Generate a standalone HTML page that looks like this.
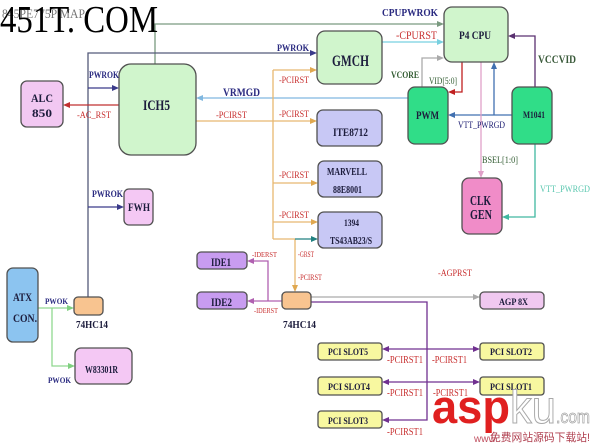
<!DOCTYPE html>
<html><head><meta charset="utf-8"><style>
html,body{margin:0;padding:0;background:#fff;}
svg{display:block;}
text{font-family:"Liberation Serif","Noto Serif CJK SC",serif;}
.b{font-weight:bold;fill:#1c1c3c;}
.lb{fill:#2a2a80;font-weight:bold;}
.lr{fill:#c83030;}
.lg{fill:#2f5a2f;}
</style></head><body>
<svg width="600" height="446" viewBox="0 0 600 446" xmlns="http://www.w3.org/2000/svg">
<rect width="600" height="446" fill="#fff"/>

<!-- connectors -->
<g fill="none" stroke-width="1.3">
 <polyline points="155,64 155,24 438,24" stroke="#7a9a80"/>
 <polyline points="88,297 88,53 312,53" stroke="#555a7a"/>
 <line x1="88" y1="88" x2="114" y2="88" stroke="#3a3a8a"/>
 <line x1="88" y1="207" x2="119" y2="207" stroke="#3a3a8a"/>
 <line x1="119" y1="105" x2="68" y2="105" stroke="#c03030"/>
 <line x1="408" y1="98" x2="201" y2="98" stroke="#80b8e0"/>
 <g stroke="#e8b870">
  <line x1="196" y1="121" x2="273" y2="121"/>
  <line x1="273" y1="70" x2="273" y2="239"/>
  <line x1="273" y1="70" x2="312" y2="70"/>
  <line x1="273" y1="121" x2="312" y2="121"/>
  <line x1="273" y1="183" x2="313" y2="183"/>
  <line x1="273" y1="222" x2="313" y2="222"/>
  <line x1="273" y1="239" x2="295" y2="239"/>
  <line x1="295" y1="239" x2="295" y2="286"/>
 </g>
 <line x1="295" y1="239" x2="313" y2="239" stroke="#208080"/>
 <line x1="382" y1="42" x2="438" y2="42" stroke="#78d0e0"/>
 <polyline points="535,87 535,36 513,36" stroke="#5a3070"/>
 <polyline points="422,87 422,58 439,58" stroke="#aaaaaa"/>
 <polyline points="462,62 462,92 453,92" stroke="#c02020"/>
 <line x1="512" y1="115" x2="453" y2="115" stroke="#4070b0"/>
 <line x1="494" y1="115" x2="494" y2="67" stroke="#4070b0"/>
 <line x1="481" y1="62" x2="481" y2="173" stroke="#e0a0c8"/>
 <polyline points="535,144 535,217 507,217" stroke="#40b8a0"/>
 <g stroke="#b060b0">
  <line x1="282" y1="301" x2="252" y2="301"/>
  <polyline points="268,301 268,261 252,261"/>
 </g>
 <line x1="311" y1="297" x2="475" y2="297" stroke="#aaaaaa"/>
 <g stroke="#703090">
  <polyline points="311,302 427,302 427,420 387,420"/>
  <line x1="387" y1="349" x2="475" y2="349"/>
  <line x1="387" y1="382" x2="475" y2="382"/>
 </g>
 <g stroke="#90d890">
  <line x1="38" y1="308" x2="69" y2="308"/>
  <polyline points="52,308 52,366 70,366"/>
 </g>
</g>

<!-- arrowheads -->
<polygon points="444,24 437,21 437,27" fill="#7a9a80"/>
<polygon points="317,53 310,50 310,56" fill="#3a3a8a"/>
<polygon points="119,88 112,85 112,91" fill="#3a3a8a"/>
<polygon points="124,207 117,204 117,210" fill="#3a3a8a"/>
<polygon points="63,105 70,102 70,108" fill="#c03030"/>
<polygon points="196,98 203,95 203,101" fill="#80b8e0"/>
<g fill="#e0a850">
 <polygon points="317,70 310,67 310,73"/>
 <polygon points="317,121 310,118 310,124"/>
 <polygon points="318,183 311,180 311,186"/>
 <polygon points="318,222 311,219 311,225"/>
 <polygon points="295,292 292,285 298,285"/>
</g>
<polygon points="318,239 311,236 311,242" fill="#208080"/>
<polygon points="444,42 437,39 437,45" fill="#78d0e0"/>
<polygon points="508,36 515,33 515,39" fill="#5a3070"/>
<polygon points="444,58 437,55 437,61" fill="#aaaaaa"/>
<polygon points="448,92 455,89 455,95" fill="#c02020"/>
<polygon points="448,115 455,112 455,118" fill="#4070b0"/>
<polygon points="494,62 491,69 497,69" fill="#4070b0"/>
<polygon points="481,178 478,171 484,171" fill="#e0a0c8"/>
<polygon points="502,217 509,214 509,220" fill="#40b8a0"/>
<polygon points="247,301 254,298 254,304" fill="#b060b0"/>
<polygon points="247,261 254,258 254,264" fill="#b060b0"/>
<polygon points="480,297 473,294 473,300" fill="#aaaaaa"/>
<g fill="#703090">
 <polygon points="382,420 389,417 389,423"/>
 <polygon points="382,349 389,346 389,352"/>
 <polygon points="480,349 473,346 473,352"/>
 <polygon points="382,382 389,379 389,385"/>
 <polygon points="480,382 473,379 473,385"/>
</g>
<polygon points="74,308 67,305 67,311" fill="#80d080"/>
<polygon points="75,366 68,363 68,369" fill="#80d080"/>

<!-- boxes -->
<g stroke="#505050" stroke-width="1.3">
 <rect x="21" y="81" width="42" height="46" rx="6" fill="#f2c8f2"/>
 <rect x="119" y="64" width="77" height="91" rx="12" fill="#d0f5cc"/>
 <rect x="317" y="31" width="65" height="53" rx="8" fill="#d0f5cc"/>
 <rect x="444" y="7" width="64" height="55" rx="8" fill="#d0f5cc"/>
 <rect x="408" y="87" width="40" height="57" rx="7" fill="#30dd88"/>
 <rect x="512" y="87" width="40" height="57" rx="7" fill="#30dd88"/>
 <rect x="317" y="110" width="65" height="36" rx="6" fill="#c8c8f5"/>
 <rect x="318" y="161" width="64" height="36" rx="6" fill="#c8c8f5"/>
 <rect x="318" y="212" width="64" height="36" rx="6" fill="#c8c8f5"/>
 <rect x="462" y="178" width="40" height="56" rx="7" fill="#f08cc8"/>
 <rect x="124" y="189" width="29" height="36" rx="5" fill="#f4c8f4"/>
 <rect x="197" y="252" width="50" height="17" rx="4" fill="#c89cf0"/>
 <rect x="197" y="292" width="50" height="17" rx="4" fill="#c89cf0"/>
 <rect x="282" y="292" width="29" height="17" rx="4" fill="#f8c490"/>
 <rect x="74" y="297" width="29" height="18" rx="4" fill="#f8c490"/>
 <rect x="7" y="268" width="31" height="74" rx="6" fill="#8cc4f0"/>
 <rect x="75" y="348" width="57" height="36" rx="6" fill="#f4c8f4"/>
 <rect x="480" y="292" width="64" height="17" rx="4" fill="#f0c8f0"/>
 <rect x="318" y="343" width="64" height="17" rx="3" fill="#f8f8a0"/>
 <rect x="480" y="343" width="64" height="17" rx="3" fill="#f8f8a0"/>
 <rect x="318" y="377" width="64" height="18" rx="3" fill="#f8f8a0"/>
 <rect x="480" y="377" width="64" height="18" rx="3" fill="#f8f8a0"/>
 <rect x="318" y="411" width="64" height="17" rx="3" fill="#f8f8a0"/>
</g>

<!-- box labels -->
<g class="b">
 <text x="31" y="102" font-size="12" textLength="22" lengthAdjust="spacingAndGlyphs">ALC</text>
 <text x="32" y="117" font-size="12" textLength="20" lengthAdjust="spacingAndGlyphs">850</text>
 <text x="143" y="110" font-size="15" textLength="27" lengthAdjust="spacingAndGlyphs">ICH5</text>
 <text x="332" y="66" font-size="16" textLength="37" lengthAdjust="spacingAndGlyphs">GMCH</text>
 <text x="459" y="39" font-size="12" textLength="32" lengthAdjust="spacingAndGlyphs">P4 CPU</text>
 <text x="416" y="119" font-size="12" textLength="23" lengthAdjust="spacingAndGlyphs">PWM</text>
 <text x="523" y="118" font-size="9" textLength="22" lengthAdjust="spacingAndGlyphs">M1041</text>
 <text x="333" y="136" font-size="12" textLength="35" lengthAdjust="spacingAndGlyphs">ITE8712</text>
 <text x="327" y="175" font-size="10" textLength="40" lengthAdjust="spacingAndGlyphs">MARVELL</text>
 <text x="333" y="193" font-size="10" textLength="29" lengthAdjust="spacingAndGlyphs">88E8001</text>
 <text x="344" y="226" font-size="9" textLength="15" lengthAdjust="spacingAndGlyphs">1394</text>
 <text x="330" y="244" font-size="10" textLength="42" lengthAdjust="spacingAndGlyphs">TS43AB23/S</text>
 <text x="470" y="205" font-size="14" textLength="21" lengthAdjust="spacingAndGlyphs">CLK</text>
 <text x="470" y="219" font-size="14" textLength="22" lengthAdjust="spacingAndGlyphs">GEN</text>
 <text x="128" y="211" font-size="12" textLength="22" lengthAdjust="spacingAndGlyphs">FWH</text>
 <text x="211" y="266" font-size="12" textLength="20" lengthAdjust="spacingAndGlyphs">IDE1</text>
 <text x="211" y="306" font-size="12" textLength="21" lengthAdjust="spacingAndGlyphs">IDE2</text>
 <text x="13" y="301" font-size="12" textLength="19" lengthAdjust="spacingAndGlyphs">ATX</text>
 <text x="13" y="322" font-size="12" textLength="24" lengthAdjust="spacingAndGlyphs">CON.</text>
 <text x="85" y="373" font-size="10" textLength="33" lengthAdjust="spacingAndGlyphs">W83301R</text>
 <text x="499" y="305" font-size="9" textLength="29" lengthAdjust="spacingAndGlyphs">AGP 8X</text>
 <text x="328" y="355" font-size="9" textLength="40" lengthAdjust="spacingAndGlyphs">PCI SLOT5</text>
 <text x="490" y="355" font-size="9" textLength="42" lengthAdjust="spacingAndGlyphs">PCI SLOT2</text>
 <text x="328" y="390" font-size="9" textLength="42" lengthAdjust="spacingAndGlyphs">PCI SLOT4</text>
 <text x="490" y="390" font-size="9" textLength="42" lengthAdjust="spacingAndGlyphs">PCI SLOT1</text>
 <text x="328" y="424" font-size="9" textLength="40" lengthAdjust="spacingAndGlyphs">PCI SLOT3</text>
 <text x="76" y="328" font-size="11" textLength="32" lengthAdjust="spacingAndGlyphs">74HC14</text>
 <text x="283" y="328" font-size="11" textLength="33" lengthAdjust="spacingAndGlyphs">74HC14</text>
</g>

<!-- connector labels -->
<text x="382" y="16" font-size="11" class="lb" textLength="56" lengthAdjust="spacingAndGlyphs">CPUPWROK</text>
<text x="396" y="39" font-size="12" class="lr" textLength="41" lengthAdjust="spacingAndGlyphs">-CPURST</text>
<text x="277" y="51" font-size="9" class="lb" textLength="32" lengthAdjust="spacingAndGlyphs">PWROK</text>
<text x="89" y="78" font-size="9" class="lb" textLength="30" lengthAdjust="spacingAndGlyphs">PWROK</text>
<text x="92" y="197" font-size="9" class="lb" textLength="31" lengthAdjust="spacingAndGlyphs">PWROK</text>
<text x="77" y="118" font-size="9" class="lr" textLength="34" lengthAdjust="spacingAndGlyphs">-AC_RST</text>
<text x="223" y="96" font-size="12" class="lb" textLength="37" lengthAdjust="spacingAndGlyphs">VRMGD</text>
<text x="216" y="118" font-size="9" class="lr" textLength="31" lengthAdjust="spacingAndGlyphs">-PCIRST</text>
<text x="279" y="83" font-size="9" class="lr" textLength="30" lengthAdjust="spacingAndGlyphs">-PCIRST</text>
<text x="279" y="117" font-size="9" class="lr" textLength="30" lengthAdjust="spacingAndGlyphs">-PCIRST</text>
<text x="279" y="178" font-size="9" class="lr" textLength="30" lengthAdjust="spacingAndGlyphs">-PCIRST</text>
<text x="279" y="218" font-size="9" class="lr" textLength="30" lengthAdjust="spacingAndGlyphs">-PCIRST</text>
<text x="298" y="257" font-size="8" class="lr" textLength="16" lengthAdjust="spacingAndGlyphs">-GRST</text>
<text x="298" y="280" font-size="8" class="lr" textLength="24" lengthAdjust="spacingAndGlyphs">-PCIRST</text>
<text x="391" y="78" font-size="9" class="lg" font-weight="bold" textLength="28" lengthAdjust="spacingAndGlyphs">VCORE</text>
<text x="429" y="84" font-size="9" class="lg" textLength="28" lengthAdjust="spacingAndGlyphs">VID[5:0]</text>
<text x="538" y="63" font-size="12" fill="#3a5a3a" font-weight="bold" textLength="38" lengthAdjust="spacingAndGlyphs">VCCVID</text>
<text x="458" y="128" font-size="9" fill="#1a1a70" textLength="47" lengthAdjust="spacingAndGlyphs">VTT_PWRGD</text>
<text x="482" y="163" font-size="9" class="lg" textLength="36" lengthAdjust="spacingAndGlyphs">BSEL[1:0]</text>
<text x="540" y="192" font-size="9" fill="#5cc8b0" textLength="50" lengthAdjust="spacingAndGlyphs">VTT_PWRGD</text>
<text x="252" y="257" font-size="7" class="lr" textLength="25" lengthAdjust="spacingAndGlyphs">-IDERST</text>
<text x="254" y="313" font-size="7" class="lr" textLength="24" lengthAdjust="spacingAndGlyphs">-IDERST</text>
<text x="438" y="276" font-size="9" class="lr" textLength="34" lengthAdjust="spacingAndGlyphs">-AGPRST</text>
<text x="387" y="363" font-size="10" class="lr" textLength="36" lengthAdjust="spacingAndGlyphs">-PCIRST1</text>
<text x="432" y="363" font-size="10" class="lr" textLength="35" lengthAdjust="spacingAndGlyphs">-PCIRST1</text>
<text x="387" y="396" font-size="10" class="lr" textLength="36" lengthAdjust="spacingAndGlyphs">-PCIRST1</text>
<text x="433" y="396" font-size="10" class="lr" textLength="35" lengthAdjust="spacingAndGlyphs">-PCIRST1</text>
<text x="387" y="435" font-size="10" class="lr" textLength="36" lengthAdjust="spacingAndGlyphs">-PCIRST1</text>
<text x="45" y="304" font-size="8" class="lb" textLength="23" lengthAdjust="spacingAndGlyphs">PWOK</text>
<text x="48" y="383" font-size="8" class="lb" textLength="23" lengthAdjust="spacingAndGlyphs">PWOK</text>

<!-- title / watermark -->
<text x="2" y="18" font-size="13" fill="#777" textLength="83" lengthAdjust="spacingAndGlyphs">845PE775P MAP</text>
<text x="0" y="32" font-size="38" fill="#000" textLength="158" lengthAdjust="spacingAndGlyphs">451T. COM</text>

<text x="432" y="423" font-family="Liberation Sans, sans-serif" font-size="47" font-weight="bold" fill="#e02020" textLength="78" lengthAdjust="spacingAndGlyphs" style="font-family:'Liberation Sans',sans-serif">asp</text>
<text x="510" y="423" font-size="46" fill="#ffffff" stroke="#a8a8a8" stroke-width="1" textLength="46" lengthAdjust="spacingAndGlyphs" style="font-family:'Liberation Sans',sans-serif">ku</text>
<text x="556" y="423" font-size="18" fill="#ffffff" stroke="#a0a0a0" stroke-width="0.7" textLength="34" lengthAdjust="spacingAndGlyphs" style="font-family:'Liberation Sans',sans-serif">.com</text>
<text x="474" y="442" font-size="10" fill="#c05060" style="font-family:'Liberation Sans',sans-serif">www</text>
<text x="490" y="441" font-size="11" fill="#b04050" textLength="100" lengthAdjust="spacingAndGlyphs" style="font-family:'Liberation Sans','Noto Sans CJK SC',sans-serif">免费网站源码下载站!</text>
</svg>
</body></html>
